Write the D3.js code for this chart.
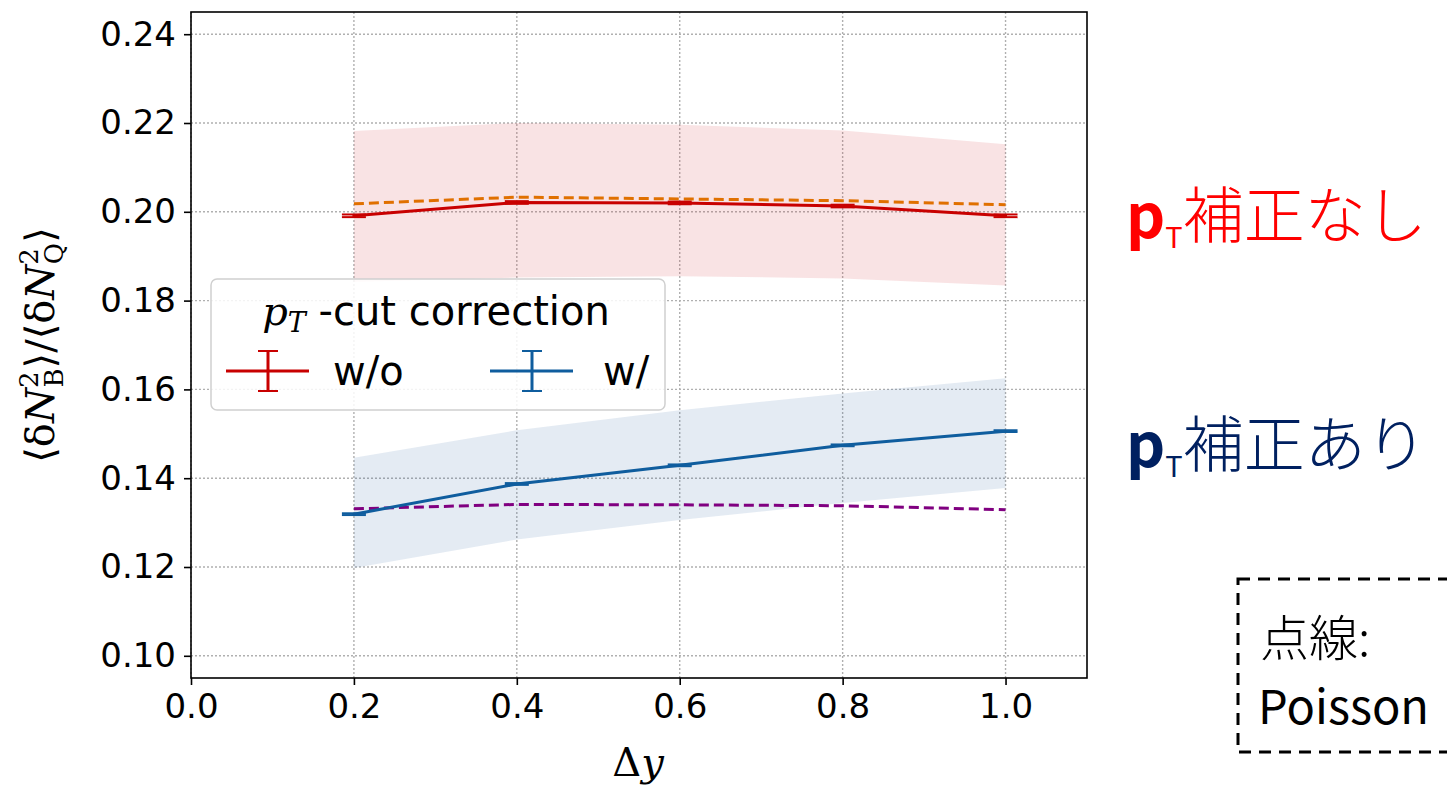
<!DOCTYPE html>
<html>
<head>
<meta charset="utf-8">
<script src="https://cdn.jsdelivr.net/npm/d3@7"></script>
<style>
body{margin:0;background:#fff;}
</style>
</head>
<body>
<script>
// data
var dy = [0.2, 0.4, 0.6, 0.8, 1.0];
var woVal = [0.1991, 0.2021, 0.2020, 0.2013, 0.1991];
var woErr = [0.0003, 0.0003, 0.0003, 0.0003, 0.0003];
var woBandHi = [0.2182, 0.2200, 0.2196, 0.2183, 0.2152];
var woBandLo = [0.1842, 0.1852, 0.1855, 0.1850, 0.1834];
var woPoisson = [0.2018, 0.2033, 0.2029, 0.2025, 0.2016];
var wVal = [0.1319, 0.1387, 0.1429, 0.1474, 0.1506];
var wErr = [0.0002, 0.0002, 0.0002, 0.0002, 0.0002];
var wBandHi = [0.1446, 0.1508, 0.1553, 0.1591, 0.1625];
var wBandLo = [0.1198, 0.1262, 0.1306, 0.1344, 0.1378];
var wPoisson = [0.1331, 0.1341, 0.1340, 0.1338, 0.1329];
var xTicks = [0.0, 0.2, 0.4, 0.6, 0.8, 1.0];
var yTicks = [0.10, 0.12, 0.14, 0.16, 0.18, 0.20, 0.22, 0.24];

var W = 1447, H = 788;
var mLeft = 191, mRight = 1087, mTop = 12, mBottom = 678;

var svg = d3.select("body").append("svg")
	.attr("width", W).attr("height", H);

var x = d3.scaleLinear().domain([0, 1.1]).range([mLeft, mRight]);
var y = d3.scaleLinear().domain([0.095, 0.245]).range([mBottom, mTop]);

// grid
var grid = svg.append("g");
grid.selectAll("line.gx").data(xTicks).enter().append("line")
	.attr("x1", d => x(d)).attr("x2", d => x(d))
	.attr("y1", mTop).attr("y2", mBottom)
	.attr("stroke", "#b0b0b0").attr("stroke-width", 1.4).attr("stroke-dasharray", "2,2");
grid.selectAll("line.gy").data(yTicks).enter().append("line")
	.attr("y1", d => y(d)).attr("y2", d => y(d))
	.attr("x1", mLeft).attr("x2", mRight)
	.attr("stroke", "#b0b0b0").attr("stroke-width", 1.4).attr("stroke-dasharray", "2,2");

// bands
function band(hi, lo, col){
	var area = d3.area()
		.x((d, i) => x(dy[i]))
		.y0((d, i) => y(lo[i]))
		.y1((d, i) => y(hi[i]));
	svg.append("path").datum(hi).attr("d", area).attr("fill", col).attr("stroke", "none");
}
band(woBandHi, woBandLo, "rgba(205,40,50,0.13)");
band(wBandHi, wBandLo, "rgba(30,90,160,0.12)");

// poisson dashed
var line = d3.line().x((d, i) => x(dy[i])).y(d => y(d));
svg.append("path").datum(woPoisson).attr("d", line)
	.attr("fill", "none").attr("stroke", "#e07000").attr("stroke-width", 3).attr("stroke-dasharray", "10,5");
svg.append("path").datum(wPoisson).attr("d", line)
	.attr("fill", "none").attr("stroke", "#800080").attr("stroke-width", 3).attr("stroke-dasharray", "10,5");

// series with error bars
function series(vals, errs, col){
	svg.append("path").datum(vals).attr("d", line)
		.attr("fill", "none").attr("stroke", col).attr("stroke-width", 3);
	var g = svg.append("g");
	vals.forEach(function(v, i){
		var cx = x(dy[i]);
		g.append("line").attr("x1", cx).attr("x2", cx)
			.attr("y1", y(v - errs[i])).attr("y2", y(v + errs[i]))
			.attr("stroke", col).attr("stroke-width", 3);
		[v - errs[i], v + errs[i]].forEach(function(e){
			g.append("line").attr("x1", cx - 12).attr("x2", cx + 12)
				.attr("y1", y(e)).attr("y2", y(e))
				.attr("stroke", col).attr("stroke-width", 2);
		});
	});
}
series(woVal, woErr, "#c80000");
series(wVal, wErr, "#0f5d9e");

// frame
svg.append("rect").attr("x", mLeft).attr("y", mTop)
	.attr("width", mRight - mLeft).attr("height", mBottom - mTop)
	.attr("fill", "none").attr("stroke", "#000").attr("stroke-width", 1.6);

// axes
var xAxis = svg.append("g").attr("transform", "translate(0," + mBottom + ")")
	.call(d3.axisBottom(x).tickValues(xTicks).tickFormat(d3.format(".1f")).tickSize(7).tickPadding(6));
var yAxis = svg.append("g").attr("transform", "translate(" + mLeft + ",0)")
	.call(d3.axisLeft(y).tickValues(yTicks).tickFormat(d3.format(".2f")).tickSize(7).tickPadding(8));
[xAxis, yAxis].forEach(function(a){
	a.select(".domain").remove();
	a.selectAll(".tick line").attr("stroke", "#000").attr("stroke-width", 1.6);
	a.selectAll("text").attr("font-family", "DejaVu Sans").attr("font-size", 34).attr("fill", "#000");
});
xAxis.selectAll("text").attr("dy", "0.8em");

// axis labels
svg.append("text").attr("x", 638).attr("y", 776)
	.attr("text-anchor", "middle")
	.attr("font-family", "DejaVu Serif").attr("font-size", 40)
	.html('Δ<tspan font-style="italic">y</tspan>');

var yl = svg.append("text")
	.attr("transform", "translate(54,345) rotate(-90)")
	.attr("text-anchor", "middle")
	.attr("font-family", "DejaVu Serif").attr("font-size", 40);
yl.html('⟨δ<tspan font-style="italic">N</tspan>' +
	'<tspan font-size="26" dy="-16">2</tspan>' +
	'<tspan font-size="26" dx="-16" dy="25">B</tspan>' +
	'<tspan dy="-9">⟩/⟨δ</tspan><tspan font-style="italic">N</tspan>' +
	'<tspan font-size="26" dy="-16">2</tspan>' +
	'<tspan font-size="26" dx="-16" dy="25">Q</tspan>' +
	'<tspan dy="-9">⟩</tspan>');

// legend
var lg = svg.append("g");
lg.append("rect").attr("x", 211).attr("y", 279).attr("width", 454).attr("height", 131)
	.attr("rx", 6).attr("fill", "rgba(255,255,255,0.85)").attr("stroke", "#d0d0d0").attr("stroke-width", 1.5);
var lt = lg.append("text").attr("x", 436).attr("y", 325).attr("text-anchor", "middle")
	.attr("font-family", "DejaVu Sans").attr("font-size", 40).attr("fill", "#000");
lt.html('<tspan font-family="DejaVu Serif" font-style="italic">p</tspan>' +
	'<tspan font-family="DejaVu Serif" font-style="italic" font-size="27" dy="7">T</tspan>' +
	'<tspan dy="-7"> -cut correction</tspan>');
var legendItems = [
	{label: "w/o", col: "#c80000", x0: 226, tx: 333},
	{label: "w/", col: "#0f5d9e", x0: 490, tx: 603}
];
legendItems.forEach(function(d){
	var ly = 371;
	lg.append("line").attr("x1", d.x0).attr("x2", d.x0 + 83).attr("y1", ly).attr("y2", ly)
		.attr("stroke", d.col).attr("stroke-width", 3);
	var cx = d.x0 + 42;
	lg.append("line").attr("x1", cx).attr("x2", cx).attr("y1", ly - 20).attr("y2", ly + 20)
		.attr("stroke", d.col).attr("stroke-width", 3);
	[ly - 20, ly + 20].forEach(function(yy){
		lg.append("line").attr("x1", cx - 10).attr("x2", cx + 10).attr("y1", yy).attr("y2", yy)
			.attr("stroke", d.col).attr("stroke-width", 2);
	});
	lg.append("text").attr("x", d.tx).attr("y", ly + 14)
		.attr("font-family", "DejaVu Sans").attr("font-size", 40).attr("fill", "#000")
		.text(d.label);
});

// right side annotations
var notes = [
	{txt: "補正なし", col: "#ff0000", y: 238},
	{txt: "補正あり", col: "#002060", y: 467}
];
notes.forEach(function(n){
	var t = svg.append("text").attr("x", 1126).attr("y", n.y)
		.attr("font-family", "Noto Sans CJK JP").attr("font-size", 61).attr("fill", n.col);
	t.append("tspan").attr("font-weight", "bold").text("p");
	t.append("tspan").attr("font-size", 29).attr("dy", 10).text("T");
	t.append("tspan").attr("dy", -10).attr("font-weight", 300).text(n.txt);
});

svg.append("rect").attr("x", 1238).attr("y", 579).attr("width", 260).attr("height", 173)
	.attr("fill", "none").attr("stroke", "#000").attr("stroke-width", 3).attr("stroke-dasharray", "12,8");
svg.append("text").attr("x", 1260).attr("y", 656)
	.attr("font-family", "Noto Sans CJK JP").attr("font-size", 49).attr("font-weight", 300).attr("fill", "#000").text("点線:");
svg.append("text").attr("x", 1258).attr("y", 724)
	.attr("font-family", "Noto Sans CJK JP").attr("font-size", 47).attr("fill", "#000").text("Poisson");
</script>
</body>
</html>
